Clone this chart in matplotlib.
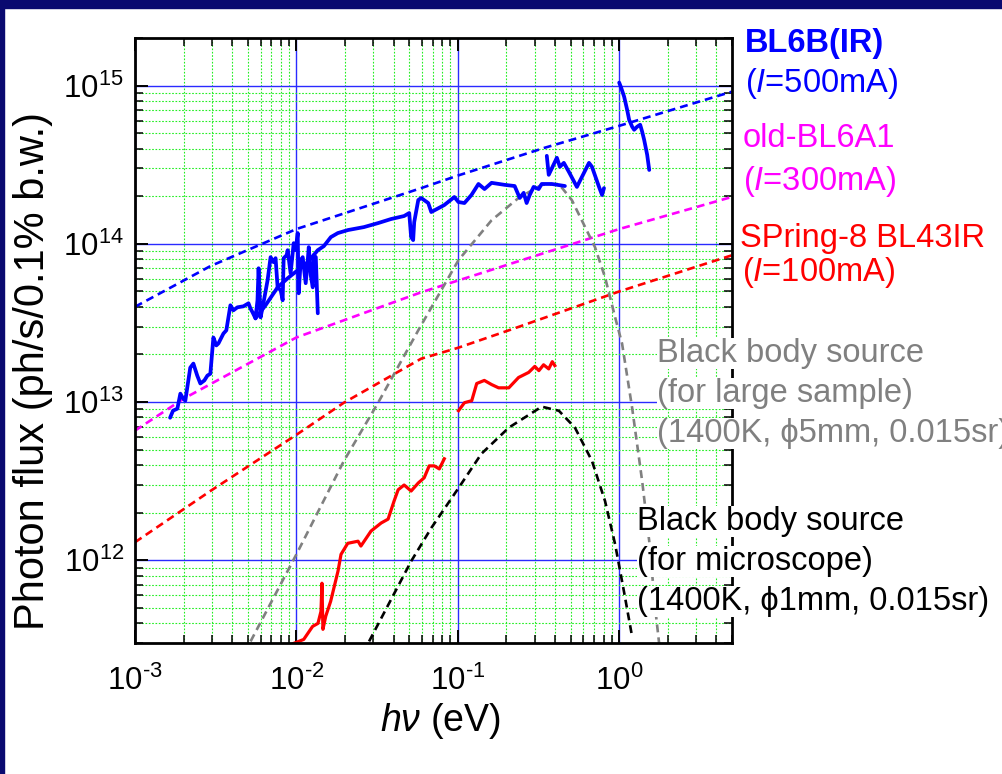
import matplotlib
matplotlib.use('Agg')
import matplotlib.pyplot as plt
from matplotlib.ticker import LogLocator, NullFormatter, FuncFormatter
from matplotlib.patches import Rectangle
import math

plt.rcParams['font.family'] = ['Liberation Sans', 'DejaVu Sans']
plt.rcParams['mathtext.fontset'] = 'custom'
plt.rcParams['mathtext.rm'] = 'Liberation Sans'
plt.rcParams['mathtext.it'] = 'Liberation Sans:italic'
plt.rcParams['mathtext.bf'] = 'Liberation Sans:bold'

# ---------------- data (photon energy in eV, photon flux in ph/s/0.1% b.w.) ----------------
# calculated curves (dashed)
bl6b_calc_x = [1e-3, 2.93e-3, 1e-2, 5.93e-2, 0.1, 0.346, 1.0, 5.0]
bl6b_calc_y = [4.0e13, 7.23e13, 1.24e14, 2.25e14, 2.7e14, 4.05e14, 5.57e14, 9.16e14]

bl6a1_calc_x = [1e-3, 2e-3, 1e-2, 5.93e-2, 1.0, 5.0]
bl6a1_calc_y = [6.6e12, 1.05e13, 2.56e13, 4.94e13, 1.24e14, 1.98e14]

spring8_calc_x = [1e-3, 2.93e-3, 1e-2, 1.97e-2, 5.93e-2, 0.1, 0.207, 1.0, 5.0]
spring8_calc_y = [1.30e12, 2.74e12, 6.21e12, 9.91e12, 1.88e13, 2.2e13, 2.84e13, 5.0e13, 8.47e13]

bb_large_x = [5.2e-3, 1.0e-2, 1.97e-2, 3.21e-2, 5.69e-2, 0.101, 0.162, 0.238, 0.331, 0.423,
              0.509, 0.614, 0.708, 0.817, 0.944, 1.042, 1.202, 1.387, 1.535, 1.671, 1.77]
bb_large_y = [3.07e11, 1.09e12, 4.25e12, 9.91e12, 2.84e13, 7.89e13, 1.41e14, 1.95e14, 2.36e14, 2.39e14,
              1.89e14, 1.28e14, 9.53e13, 6.15e13, 3.43e13, 2.34e13, 9.23e12, 3.18e12, 1.32e12, 5.0e11, 2.95e11]

bb_micro_x = [2.82e-2, 5.14e-2, 6.85e-2, 0.101, 0.140, 0.207, 0.331, 0.423, 0.532, 0.678,
              0.817, 0.944, 1.072, 1.202]
bb_micro_y = [3.07e11, 9.86e11, 1.60e12, 2.86e12, 4.71e12, 6.89e12, 9.35e12, 8.81e12, 6.89e12, 4.25e12,
              2.37e12, 1.26e12, 6.3e11, 3.3e11]

# measured BL6B (solid blue), several pieces
bl6b_a_x = [1.65e-3, 1.72e-3, 1.83e-3, 1.91e-3, 1.99e-3, 2.05e-3, 2.20e-3, 2.30e-3, 2.43e-3, 2.54e-3,
            2.69e-3, 2.81e-3, 2.93e-3, 3.06e-3, 3.19e-3, 3.29e-3, 3.53e-3, 3.68e-3, 3.90e-3, 4.07e-3,
            4.31e-3, 4.70e-3, 5.05e-3, 5.19e-3, 5.35e-3, 5.58e-3, 5.74e-3, 5.83e-3, 6.00e-3, 6.26e-3,
            6.63e-3, 6.92e-3, 7.22e-3, 7.43e-3, 7.65e-3, 7.99e-3, 8.22e-3, 8.34e-3, 8.70e-3, 8.83e-3,
            9.21e-3, 9.62e-3, 9.90e-3, 1.019e-2, 1.033e-2, 1.064e-2, 1.094e-2, 1.142e-2, 1.176e-2, 1.193e-2,
            1.227e-2, 1.263e-2, 1.282e-2, 1.319e-2, 1.357e-2]
bl6b_a_y = [7.96e12, 8.82e12, 9.08e12, 1.13e13, 1.05e13, 1.02e13, 1.65e13, 1.75e13, 1.47e13, 1.31e13,
            1.37e13, 1.47e13, 1.51e13, 2.56e13, 2.28e13, 2.35e13, 2.71e13, 2.84e13, 4.09e13, 3.80e13,
            3.97e13, 4.03e13, 4.21e13, 3.91e13, 3.69e13, 3.38e13, 4.40e13, 7.01e13, 3.43e13, 4.27e13,
            5.89e13, 8.24e13, 7.66e13, 8.12e13, 5.31e13, 5.09e13, 4.40e13, 8.12e13, 8.48e13, 9.12e13,
            6.52e13, 1.01e14, 9.12e13, 1.17e14, 4.87e13, 7.88e13, 8.24e13, 5.64e13, 7.88e13, 9.53e13,
            6.33e13, 5.31e13, 8.48e13, 8.24e13, 3.64e13]

bl6b_b_x = [5.58e-3, 6.44e-3, 7.65e-3, 8.83e-3, 1.019e-2, 1.176e-2, 1.357e-2, 1.479e-2, 1.635e-2, 1.807e-2,
            2.085e-2, 2.62e-2, 3.21e-2, 3.86e-2, 4.65e-2, 5.00e-2, 5.14e-2, 5.29e-2, 5.37e-2, 5.69e-2,
            5.93e-2, 6.56e-2, 6.85e-2, 8.25e-2, 9.52e-2, 0.1009, 0.1099, 0.1215, 0.1343, 0.1464,
            0.1619, 0.195, 0.225, 0.242, 0.256, 0.267, 0.279, 0.295, 0.317, 0.331, 0.382, 0.461]
bl6b_b_y = [3.38e13, 4.09e13, 5.31e13, 6.06e13, 6.81e13, 7.66e13, 9.12e13, 9.67e13, 1.103e14, 1.17e14,
            1.222e14, 1.276e14, 1.353e14, 1.435e14, 1.499e14, 1.566e14, 1.103e14, 1.056e14, 1.373e14, 1.892e14,
            1.949e14, 1.811e14, 1.589e14, 1.759e14, 1.977e14, 1.838e14, 1.811e14, 2.036e14, 2.39e14, 2.22e14,
            2.43e14, 2.36e14, 2.32e14, 1.949e14, 2.10e14, 1.811e14, 2.036e14, 2.29e14, 2.22e14, 2.39e14, 2.39e14, 2.32e14]

bl6b_c_x = [0.356, 0.366, 0.411, 0.429, 0.454, 0.488, 0.547, 0.650, 0.678, 0.750, 0.783, 0.805]
bl6b_c_y = [3.60e14, 2.73e14, 3.50e14, 3.07e14, 3.25e14, 2.85e14, 2.29e14, 3.25e14, 3.07e14, 2.29e14, 2.036e14, 2.25e14]

bl6b_d_x = [1.00, 1.028, 1.073, 1.120, 1.152, 1.203, 1.238, 1.292, 1.349, 1.388, 1.428, 1.491, 1.535]
bl6b_d_y = [1.045e15, 9.71e14, 8.52e14, 7.04e14, 6.09e14, 5.50e14, 5.26e14, 5.50e14, 5.66e14, 5.11e14, 4.54e14, 3.65e14, 2.93e14]

# measured SPring-8 BL43IR (solid red)
spring8_a_x = [9.6e-3, 1.11e-2, 1.26e-2, 1.36e-2, 1.42e-2, 1.44e-2, 1.46e-2, 1.52e-2, 1.63e-2, 1.81e-2,
               1.89e-2, 2.08e-2, 2.41e-2, 2.51e-2, 2.90e-2, 3.35e-2, 3.70e-2, 4.03e-2, 4.27e-2, 4.65e-2,
               5.14e-2, 5.69e-2, 6.19e-2, 6.65e-2, 7.15e-2, 7.68e-2, 8.25e-2]
spring8_a_y = [2.98e11, 3.16e11, 3.82e11, 3.99e11, 4.75e11, 7.16e11, 3.66e11, 4.43e11, 5.50e11, 8.53e11,
               1.09e12, 1.28e12, 1.32e12, 1.23e12, 1.53e12, 1.72e12, 1.82e12, 2.37e12, 2.79e12, 2.99e12,
               2.74e12, 3.08e12, 3.32e12, 3.95e12, 3.95e12, 3.78e12, 4.38e12]

spring8_b_x = [0.101, 0.110, 0.122, 0.131, 0.146, 0.162, 0.179, 0.207, 0.238, 0.275, 0.300, 0.318, 0.340, 0.366, 0.385, 0.399]
spring8_b_y = [8.82e12, 9.91e12, 1.02e13, 1.31e13, 1.37e13, 1.29e13, 1.23e13, 1.23e13, 1.43e13, 1.54e13, 1.68e13, 1.58e13, 1.72e13, 1.62e13, 1.80e13, 1.70e13]

x_major_ticks = [1e-3, 1e-2, 1e-1, 1e0]
y_major_ticks = [1e12, 1e13, 1e14, 1e15]

# ---------------- figure ----------------
W, H = 1003, 774
fig = plt.figure(figsize=(W / 100, H / 100), dpi=100, facecolor='white')
ax = fig.add_axes([135 / W, 1 - 643 / H, 597 / W, 605 / H])
ax.set_xscale('log')
ax.set_yscale('log')

dash = (0, (3.0, 1.9))
ax.plot(bl6b_calc_x, bl6b_calc_y, color='#0000ff', lw=1.9, ls=dash)
ax.plot(bl6a1_calc_x, bl6a1_calc_y, color='#ff00ff', lw=1.9, ls=dash)
ax.plot(spring8_calc_x, spring8_calc_y, color='#ff0000', lw=1.9, ls=dash)
ax.plot(bb_large_x, bb_large_y, color='#808080', lw=1.9, ls=dash)
ax.plot(bb_micro_x, bb_micro_y, color='#000000', lw=1.9, ls=dash)

for xs, ys in [(bl6b_b_x, bl6b_b_y), (bl6b_a_x, bl6b_a_y), (bl6b_c_x, bl6b_c_y), (bl6b_d_x, bl6b_d_y)]:
    ax.plot(xs, ys, color='#0000ff', lw=2.7, solid_joinstyle='round', solid_capstyle='round')
for xs, ys in [(spring8_a_x, spring8_a_y), (spring8_b_x, spring8_b_y)]:
    ax.plot(xs, ys, color='#ff0000', lw=2.3, solid_joinstyle='round')


def pow_label(v, pos):
    e = int(round(math.log10(v)))
    if e < 0:
        return r'$\mathdefault{10^{\text{-}%d}}$' % (-e)
    return r'$\mathdefault{10^{%d}}$' % e


ax.set_xticks(x_major_ticks)
ax.set_yticks(y_major_ticks)
ax.xaxis.set_major_formatter(FuncFormatter(pow_label))
ax.yaxis.set_major_formatter(FuncFormatter(pow_label))
ax.xaxis.set_minor_locator(LogLocator(base=10, subs=range(2, 10), numticks=50))
ax.yaxis.set_minor_locator(LogLocator(base=10, subs=range(2, 10), numticks=50))
ax.xaxis.set_minor_formatter(NullFormatter())
ax.yaxis.set_minor_formatter(NullFormatter())
ax.set_xlim(1e-3, 5)
ax.set_ylim(3e11, 2e15)

ax.set_axisbelow(True)
ax.grid(which='major', color='#2a2aff', lw=1.0, ls='-')
ax.grid(which='minor', color='#22ee22', lw=0.8, ls=(0, (1.5, 1.5)))

ax.tick_params(which='both', direction='in', top=True, right=True, colors='black')
ax.tick_params(which='major', length=9.5, width=1.4, labelsize=22.5)
ax.tick_params(which='minor', length=5.5, width=1.1)
ax.tick_params(axis='x', which='major', pad=16)
ax.tick_params(axis='y', which='major', pad=8)
for s in ax.spines.values():
    s.set_linewidth(2.0)

# axis labels
fig.text(33 / W, 1 - 371 / H, 'Photon flux (ph/s/0.1% b.w.)', rotation=90,
         ha='center', va='center', fontsize=30)
fig.text(440 / W, 1 - 731 / H, r'$h\nu$ (eV)', ha='center', va='baseline', fontsize=27)

# right-side annotations
fs = 23.5
fig.text(745 / W, 1 - 52 / H, 'BL6B(IR)', color='#0000ff', fontsize=fs, fontweight='bold', va='baseline')
fig.text(745 / W, 1 - 92 / H, r'($\mathit{I}$=500mA)', color='#0000ff', fontsize=fs, va='baseline')
fig.text(743 / W, 1 - 147 / H, 'old-BL6A1', color='#ff00ff', fontsize=fs, va='baseline')
fig.text(743 / W, 1 - 190 / H, r'($\mathit{I}$=300mA)', color='#ff00ff', fontsize=fs, va='baseline')
fig.text(740 / W, 1 - 247 / H, 'SPring-8 BL43IR', color='#ff0000', fontsize=fs, va='baseline')
fig.text(742 / W, 1 - 281 / H, r'($\mathit{I}$=100mA)', color='#ff0000', fontsize=fs, va='baseline')

box = dict(facecolor='white', edgecolor='none', pad=0)
for txt, yb in [('Black body source', 362), ('(for large sample)', 402), ('(1400K, \u03d55mm, 0.015sr)', 442)]:
    fig.text(657 / W, 1 - yb / H, txt, color='#808080', fontsize=fs, va='baseline', bbox=box)
for txt, yb in [('Black body source', 530), ('(for microscope)', 570), ('(1400K, \u03d51mm, 0.015sr)', 610)]:
    fig.text(637 / W, 1 - yb / H, txt, color='black', fontsize=fs, va='baseline', bbox=box)

# slide frame
navy = '#0a0a70'
fig.patches.append(Rectangle((0, 1 - 8 / H), 1, 8 / H, transform=fig.transFigure, color=navy, zorder=10))
fig.patches.append(Rectangle((0, 0), 4 / W, 1, transform=fig.transFigure, color=navy, zorder=10))

fig.savefig('out.png', dpi=100, facecolor='white')
